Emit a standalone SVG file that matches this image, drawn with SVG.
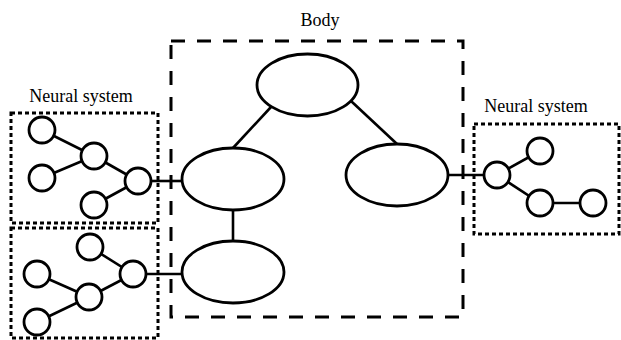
<svg xmlns="http://www.w3.org/2000/svg" width="621" height="340" viewBox="0 0 621 340">
<style>
.lbl{font-family:"Liberation Serif","Times New Roman",serif;font-size:18px;fill:#000;text-anchor:middle}
.body{fill:none;stroke:#000;stroke-width:3;stroke-dasharray:14 12}
.ns{fill:none;stroke:#000;stroke-width:3;stroke-dasharray:4 3}
.n{fill:#fff;stroke:#000;stroke-width:2.8}
.e{fill:#fff;stroke:#000;stroke-width:2.8}
.c{stroke:#000;stroke-width:2.6;fill:none}
</style>
<rect width="621" height="340" fill="#fff"/>
<g id="body">
<rect class="body" x="171" y="41" width="292" height="276"/>
<text class="lbl" x="320" y="26">Body</text>
</g>
<g id="ns-left-top">
<rect class="ns" x="11" y="113" width="147" height="110"/>
<text class="lbl" x="81" y="102">Neural system</text>
</g>
<g id="ns-left-bottom">
<rect class="ns" x="11" y="228" width="147" height="110"/>
</g>
<g id="ns-right">
<rect class="ns" x="474" y="124" width="145" height="110"/>
<text class="lbl" x="536" y="112">Neural system</text>
</g>
<g id="connectors">
<line class="c" x1="271" y1="107" x2="233" y2="148"/>
<line class="c" x1="351" y1="101" x2="397" y2="144"/>
<line class="c" x1="233" y1="210" x2="233" y2="241"/>
<line class="c" x1="448" y1="175" x2="484" y2="175"/>
<line class="c" x1="151" y1="181" x2="182" y2="181"/>
<line class="c" x1="146" y1="274" x2="182" y2="274"/>
<line class="c" x1="42" y1="130" x2="94" y2="156"/>
<line class="c" x1="42" y1="178" x2="94" y2="156"/>
<line class="c" x1="94" y1="156" x2="138" y2="181"/>
<line class="c" x1="94" y1="205" x2="138" y2="181"/>
<line class="c" x1="90" y1="247" x2="133" y2="274"/>
<line class="c" x1="37" y1="274" x2="89" y2="297"/>
<line class="c" x1="37" y1="322" x2="89" y2="297"/>
<line class="c" x1="89" y1="297" x2="133" y2="274"/>
<line class="c" x1="497" y1="175" x2="540" y2="151"/>
<line class="c" x1="497" y1="175" x2="540" y2="203"/>
<line class="c" x1="540" y1="203" x2="593" y2="203"/>
</g>
<g id="body-top"><ellipse class="e" cx="307.5" cy="85" rx="50.5" ry="31"/></g>
<g id="body-left"><ellipse class="e" cx="233" cy="179" rx="51" ry="31"/></g>
<g id="body-right"><ellipse class="e" cx="397" cy="175" rx="51" ry="31"/></g>
<g id="body-bottom"><ellipse class="e" cx="233" cy="272" rx="51" ry="31"/></g>
<g id="lt1"><circle class="n" cx="42" cy="130" r="13"/></g>
<g id="lt2"><circle class="n" cx="42" cy="178" r="13"/></g>
<g id="lt3"><circle class="n" cx="94" cy="156" r="13"/></g>
<g id="lt4"><circle class="n" cx="138" cy="181" r="13"/></g>
<g id="lt5"><circle class="n" cx="94" cy="205" r="13"/></g>
<g id="lb1"><circle class="n" cx="90" cy="247" r="13"/></g>
<g id="lb2"><circle class="n" cx="37" cy="274" r="13"/></g>
<g id="lb3"><circle class="n" cx="37" cy="322" r="13"/></g>
<g id="lb4"><circle class="n" cx="89" cy="297" r="13"/></g>
<g id="lb5"><circle class="n" cx="133" cy="274" r="13"/></g>
<g id="r1"><circle class="n" cx="497" cy="175" r="13"/></g>
<g id="r2"><circle class="n" cx="540" cy="151" r="13"/></g>
<g id="r3"><circle class="n" cx="540" cy="203" r="13"/></g>
<g id="r4"><circle class="n" cx="593" cy="203" r="13"/></g>
</svg>
